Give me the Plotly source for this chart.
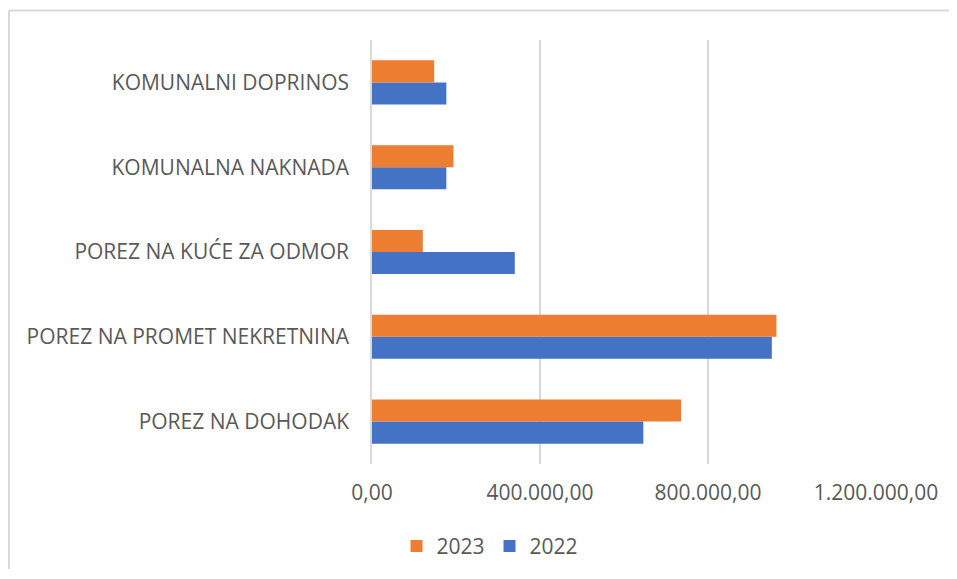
import plotly.graph_objects as go

categories = [
    "POREZ NA DOHODAK",
    "POREZ NA PROMET NEKRETNINA",
    "POREZ NA KUĆE ZA ODMOR",
    "KOMUNALNA NAKNADA",
    "KOMUNALNI DOPRINOS",
]
values_2022 = [646000, 952000, 340000, 177000, 177000]
values_2023 = [736000, 963000, 121000, 194000, 148000]
tick_vals = [0, 400000, 800000, 1200000]
tick_text = ["0,00", "400.000,00", "800.000,00", "1.200.000,00"]

FONT = "Open Sans"
GREY = "#595959"

# page has an 8px body margin, so the figure is 8px smaller and shifted
W, H = 949, 571
L, R, T, B = 364, 81, 32, 107
PW, PH = W - L - R, H - T - B

fig = go.Figure()
fig.add_trace(go.Bar(
    y=categories, x=values_2022, name="2022", orientation="h",
    marker=dict(color="#4472C4", line=dict(width=0)),
))
fig.add_trace(go.Bar(
    y=categories, x=values_2023, name="2023", orientation="h",
    marker=dict(color="#ED7D31", line=dict(width=0)),
))

fig.update_layout(
    width=W, height=H,
    barmode="group", bargap=0.48, bargroupgap=0,
    plot_bgcolor="white", paper_bgcolor="white",
    margin=dict(l=L, r=R, t=T, b=B),
    font=dict(family=FONT, size=21, color=GREY),
    legend=dict(
        orientation="h", traceorder="reversed",
        x=(490 - 372) / PW, xanchor="center", y=-(548 - 464) / PH, yanchor="middle",
        font=dict(size=21, color=GREY), itemwidth=30,
    ),
    shapes=[
        dict(type="line", xref="paper", yref="paper",
             x0=-(L - 1) / PW, x1=-(L - 1) / PW, y0=-B / PH, y1=1 + (T - 2) / PH,
             line=dict(color="#d9d9d9", width=2)),
        dict(type="line", xref="paper", yref="paper",
             x0=-(L - 1) / PW, x1=1 + R / PW, y0=1 + (T - 2) / PH, y1=1 + (T - 2) / PH,
             line=dict(color="#d9d9d9", width=2)),
    ],
)
fig.update_xaxes(
    range=[0, 1200000], tickvals=tick_vals, ticktext=tick_text,
    showgrid=True, gridcolor="#d9d9d9", gridwidth=1.5,
    zeroline=False, showline=False, ticks="",
    ticklabelstandoff=14, tickfont=dict(size=21, color=GREY),
)
fig.update_yaxes(
    showgrid=False, zeroline=False, showline=True,
    linecolor="#d9d9d9", linewidth=1.5, ticks="",
    ticklabelstandoff=17, tickfont=dict(size=21, color=GREY),
)

fig.write_html("out.html")
